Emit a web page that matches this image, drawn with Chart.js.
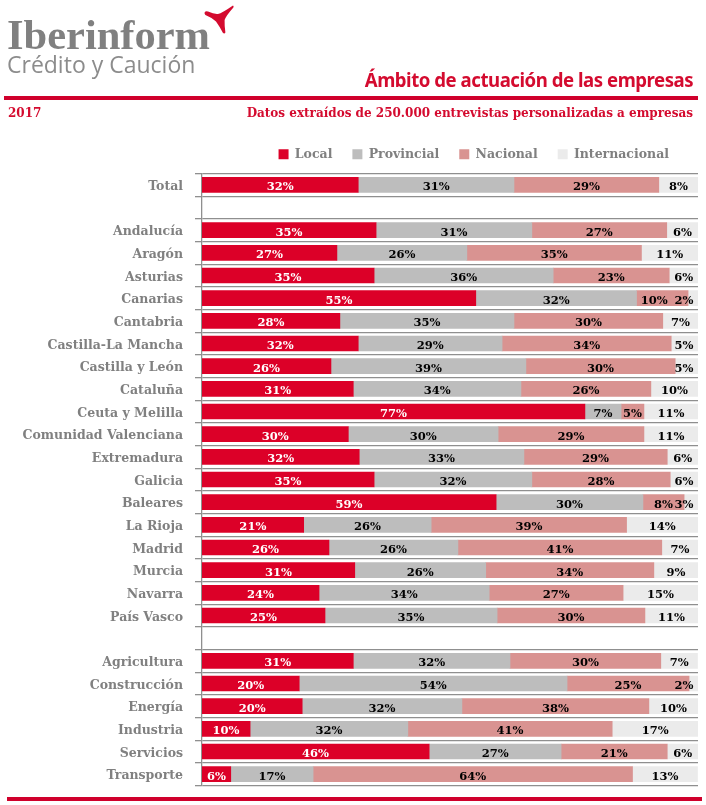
<!DOCTYPE html>
<html lang="es">
  <head>
    <meta charset="UTF-8" />
    <title>Ámbito de actuación de las empresas</title>
    <script src="https://cdnjs.cloudflare.com/ajax/libs/Chart.js/4.4.1/chart.umd.min.js"></script>
    <style>
      body { margin: 0; background: #fff; }
      #page { position: relative; width: 706px; height: 805px; overflow: hidden; }
      #page div { position: absolute; white-space: nowrap; }
      .rule { background: #d0002c; height: 4px; }
      .red { color: #d40b2f; }
      .sub { font: bold 12px "DejaVu Serif", serif; top: 106px; }
    </style>
  </head>
  <body>
    <div id="page">
      <canvas id="ambitoChart" width="706" height="805" style="position:absolute;left:0;top:0"></canvas>
      <div style="left:7px;top:10px;font:bold 42.5px 'Liberation Serif',serif;color:#808080">Iberinform</div>
      <div style="left:7px;top:48px;font:23px 'Open Sans',sans-serif;color:#8c8c8c">Crédito y Caución</div>
      <svg style="position:absolute;left:200px;top:0" width="40" height="40" viewBox="200 0 40 40">
        <path fill="#d40b2f" d="M204.6 12.6 Q205.6 10.6 208 11.6 Q214 14.4 218 14 Q222 13 233 5.4 Q234 6 233.4 7.4 Q226 15.6 224.6 20 Q224.4 25 225.4 32.4 Q224.6 34 223 33 Q219.6 26.6 216 21.6 Q212 17.6 205.4 15 Q204.2 14 204.6 12.6 Z" />
      </svg>
      <div class="red" style="right:13px;top:66px;font:bold 20px 'Noto Sans',sans-serif;letter-spacing:-0.5px;transform:scaleX(0.93);transform-origin:right">Ámbito de actuación de las empresas</div>
      <div class="rule" style="left:4px;top:96px;width:694px"></div>
      <div class="red sub" style="left:8px">2017</div>
      <div class="red sub" style="right:13px">Datos extraídos de 250.000 entrevistas personalizadas a empresas</div>
      <div class="rule" style="left:7px;top:797px;width:695px"></div>
    </div>

    <script>
      const categories = [
        "Total", "", "Andalucía", "Aragón", "Asturias", "Canarias", "Cantabria",
        "Castilla-La Mancha", "Castilla y León", "Cataluña", "Ceuta y Melilla",
        "Comunidad Valenciana", "Extremadura", "Galicia", "Baleares", "La Rioja",
        "Madrid", "Murcia", "Navarra", "País Vasco", "", "Agricultura",
        "Construcción", "Energía", "Industria", "Servicios", "Transporte",
      ];
      const local = [
        31.5, null, 35.1, 27.2, 34.7, 55.2, 27.8, 31.5, 26.0, 30.5, 77.2, 29.5, 31.7,
        34.7, 59.3, 20.5, 25.6, 30.8, 23.6, 24.8, null, 30.5, 19.6, 20.2, 9.7, 45.8, 5.8,
      ];
      const provincial = [
        31.4, null, 31.4, 26.2, 36.1, 32.4, 35.1, 29.0, 39.3, 33.8, 7.3, 30.2, 33.2,
        31.8, 29.6, 25.7, 26.0, 26.4, 34.3, 34.7, null, 31.6, 54.0, 32.2, 31.8, 26.6, 16.6,
      ];
      const nacional = [
        29.2, null, 27.2, 35.2, 23.4, 10.4, 30.0, 34.1, 30.1, 26.2, 4.6, 29.4, 28.9,
        27.9, 8.3, 39.4, 41.1, 33.9, 27.0, 29.8, null, 30.4, 24.6, 37.7, 41.2, 21.4, 64.4,
      ];
      const internacional = [
        7.9, null, 6.3, 11.4, 5.8, 2.0, 7.1, 5.4, 4.6, 9.5, 10.9, 10.9, 6.2,
        5.6, 2.8, 14.4, 7.3, 8.9, 15.1, 10.7, null, 7.4, 1.8, 9.9, 17.3, 6.2, 13.1,
      ];

      const gray = "#808080";
      const lineGray = "#8f8f8f";
      const serifBold = { family: "DejaVu Serif", size: 12.5, weight: "bold" };

      // porcentajes encima de cada tramo, sin datalabels porque no hay red
      const barLabels = {
        id: "barLabels",
        afterDatasetsDraw(chart) {
          const ctx = chart.ctx;
          ctx.save();
          ctx.font = 'bold 11.5px "DejaVu Serif", serif';
          ctx.textAlign = "center";
          ctx.textBaseline = "middle";
          chart.data.datasets.forEach((ds, i) => {
            ctx.fillStyle = i === 0 ? "#fff" : "#000";
            chart.getDatasetMeta(i).data.forEach((bar, j) => {
              if (ds.data[j] === null) return;
              let x = Math.min((bar.base + bar.x) / 2, 684);
              if (categories[j] === "Canarias" && i === 2) x -= 8;
              ctx.fillText(Math.round(ds.data[j]) + "%", x, bar.y + 2.5);
            });
          });
          ctx.restore();
        },
      };

      // la leyenda no va centrada en el lienzo
      const moveLegend = {
        id: "moveLegend",
        afterLayout(chart) {
          chart.legend.right = 689;
          chart.legend.top -= 3;
        },
      };

      new Chart(document.getElementById("ambitoChart"), {
        type: "bar",
        data: {
          labels: categories,
          datasets: [
            { label: "Local", data: local, backgroundColor: "#dc0028" },
            { label: "Provincial", data: provincial, backgroundColor: "#bdbdbd" },
            { label: "Nacional", data: nacional, backgroundColor: "#d99391" },
            { label: "Internacional", data: internacional, backgroundColor: "#ebebeb" },
          ],
        },
        options: {
          indexAxis: "y",
          responsive: false,
          animation: false,
          barThickness: 15,
          layout: { padding: { top: 131, right: 8, bottom: 18 } },
          scales: {
            x: { display: false, stacked: true, min: 0, max: 100 },
            y: {
              stacked: true,
              afterFit(scale) {
                scale.width = 202;
              },
              border: { color: lineGray, width: 1.3 },
              grid: { color: lineGray, lineWidth: 1.3, tickLength: 7 },
              ticks: {
                autoSkip: false,
                padding: 12,
                labelOffset: 2,
                color: gray,
                font: serifBold,
              },
            },
          },
          plugins: {
            tooltip: { enabled: false },
            legend: {
              position: "top",
              align: "end",
              labels: {
                boxWidth: 10,
                boxHeight: 10,
                padding: 20,
                color: gray,
                font: serifBold,
              },
            },
          },
        },
        plugins: [barLabels, moveLegend],
      });
    </script>
  </body>
</html>
